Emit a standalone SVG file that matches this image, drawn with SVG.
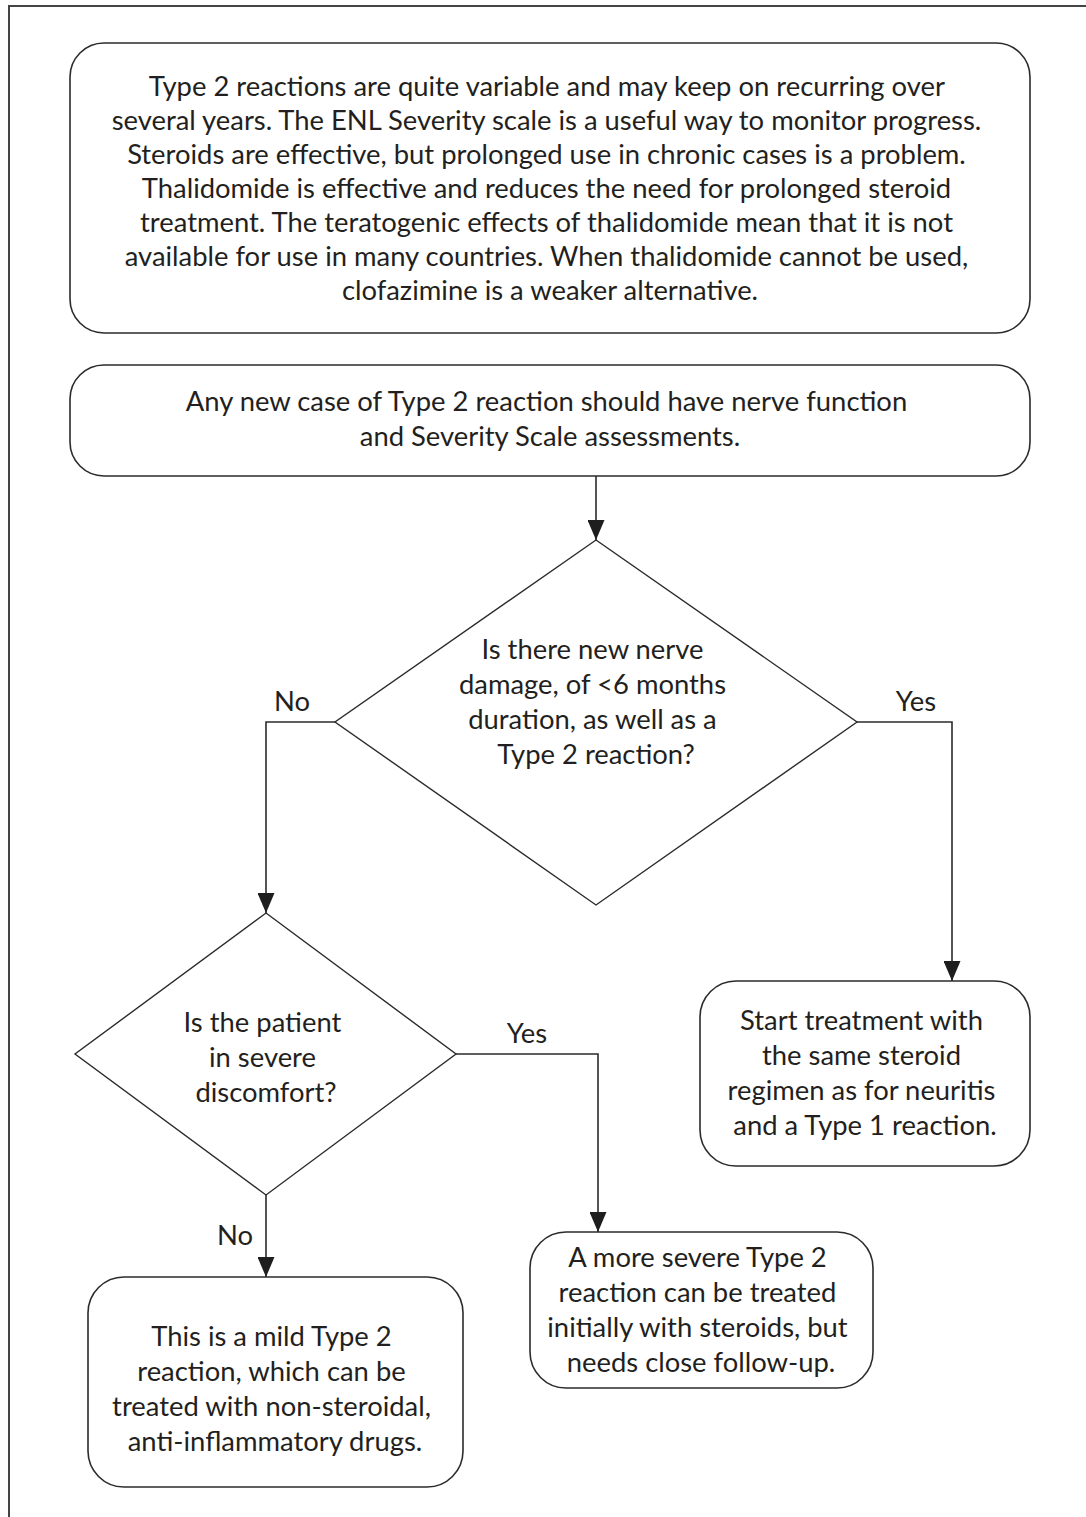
<svg xmlns="http://www.w3.org/2000/svg" width="1086" height="1517" viewBox="0 0 1086 1517">
  <style>
    .box { fill: #ffffff; stroke: #2b2b2b; stroke-width: 1.6; }
    .dia { fill: #ffffff; stroke: #2b2b2b; stroke-width: 1.4; }
    .txt { font-family: Lato, "Open Sans", sans-serif; font-size: 27.4px; fill: #231f20; text-anchor: middle; }
    .lbl { font-family: Lato, "Open Sans", sans-serif; font-size: 27.4px; fill: #231f20; text-anchor: middle; }
    .wire { fill: none; stroke: #2b2b2b; stroke-width: 1.6; }
  </style>
  <defs>
    <marker id="arrow" markerWidth="20" markerHeight="17" refX="20" refY="8.5" orient="auto" markerUnits="userSpaceOnUse">
      <path d="M0,0 L20,8.5 L0,17 Z" fill="#1e1e1e"/>
    </marker>
  </defs>

  <rect width="1086" height="1517" fill="#ffffff"/>

  <!-- page frame (left and top rule) -->
  <path d="M9,1517 V6 H1086" fill="none" stroke="#444" stroke-width="2"/>

  <g id="intro">
    <rect class="box" x="70" y="43" width="960" height="290" rx="34" ry="34"/>
    <text class="txt">
      <tspan x="550" y="96">Type 2 reactions are quite variable and may keep on recurring over</tspan>
      <tspan x="550" y="130">several years. The ENL Severity scale is a useful way to monitor progress.</tspan>
      <tspan x="550" y="164">Steroids are effective, but prolonged use in chronic cases is a problem.</tspan>
      <tspan x="550" y="198">Thalidomide is effective and reduces the need for prolonged steroid</tspan>
      <tspan x="550" y="232">treatment. The teratogenic effects of thalidomide mean that it is not</tspan>
      <tspan x="550" y="266">available for use in many countries. When thalidomide cannot be used,</tspan>
      <tspan x="550" y="300">clofazimine is a weaker alternative.</tspan>
    </text>
  </g>

  <g id="assess">
    <rect class="box" x="70" y="365" width="960" height="111" rx="34" ry="34"/>
    <text class="txt">
      <tspan x="550" y="411">Any new case of Type 2 reaction should have nerve function</tspan>
      <tspan x="550" y="446">and Severity Scale assessments.</tspan>
    </text>
  </g>

  <g id="q-nerve">
    <polygon class="dia" points="596,540 857,722 596,905 335,722"/>
    <text class="txt">
      <tspan x="596" y="659">Is there new nerve</tspan>
      <tspan x="596" y="694">damage, of &lt;6 months</tspan>
      <tspan x="596" y="729">duration, as well as a</tspan>
      <tspan x="596" y="764">Type 2 reaction?</tspan>
    </text>
  </g>

  <g id="steroid-regimen">
    <rect class="box" x="700" y="981" width="330" height="185" rx="36" ry="36"/>
    <text class="txt">
      <tspan x="865" y="1030">Start treatment with</tspan>
      <tspan x="865" y="1065">the same steroid</tspan>
      <tspan x="865" y="1100">regimen as for neuritis</tspan>
      <tspan x="865" y="1135">and a Type 1 reaction.</tspan>
    </text>
  </g>

  <g id="q-discomfort">
    <polygon class="dia" points="266,913 456,1054 266,1195 75,1054"/>
    <text class="txt">
      <tspan x="266" y="1032">Is the patient</tspan>
      <tspan x="266" y="1067">in severe</tspan>
      <tspan x="266" y="1102">discomfort?</tspan>
    </text>
  </g>

  <g id="severe">
    <rect class="box" x="530" y="1232" width="343" height="156" rx="36" ry="36"/>
    <text class="txt">
      <tspan x="701" y="1267">A more severe Type 2</tspan>
      <tspan x="701" y="1302">reaction can be treated</tspan>
      <tspan x="701" y="1337">initially with steroids, but</tspan>
      <tspan x="701" y="1372">needs close follow-up.</tspan>
    </text>
  </g>

  <g id="mild">
    <rect class="box" x="88" y="1277" width="375" height="210" rx="36" ry="36"/>
    <text class="txt">
      <tspan x="275" y="1346">This is a mild Type 2</tspan>
      <tspan x="275" y="1381">reaction, which can be</tspan>
      <tspan x="275" y="1416">treated with non-steroidal,</tspan>
      <tspan x="275" y="1451">anti-inflammatory drugs.</tspan>
    </text>
  </g>

  <g id="connectors">
    <path class="wire" d="M596,476 V540" marker-end="url(#arrow)"/>
    <path class="wire" d="M335,722 H266 V913" marker-end="url(#arrow)"/>
    <path class="wire" d="M857,722 H952 V981" marker-end="url(#arrow)"/>
    <path class="wire" d="M456,1054 H598 V1232" marker-end="url(#arrow)"/>
    <path class="wire" d="M266,1195 V1277" marker-end="url(#arrow)"/>
    <text class="lbl" x="292" y="711">No</text>
    <text class="lbl" x="916" y="711">Yes</text>
    <text class="lbl" x="527" y="1043">Yes</text>
    <text class="lbl" x="235" y="1245">No</text>
  </g>
</svg>
